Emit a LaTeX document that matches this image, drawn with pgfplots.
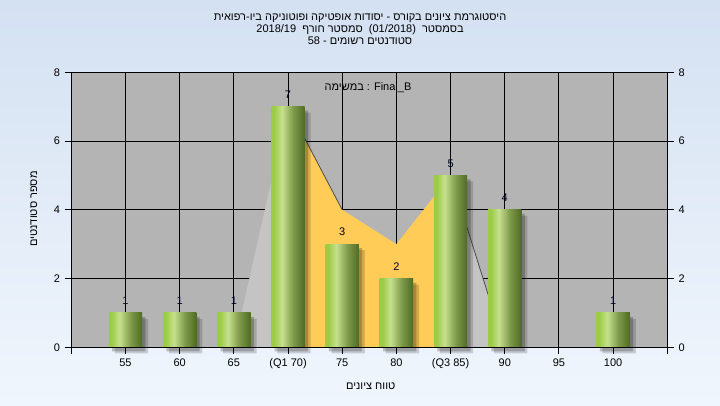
\documentclass[border=0pt]{standalone}
\usepackage{pgfplots}
\pgfplotsset{compat=1.18}
\usepackage{fontspec}
\setmainfont{Liberation Sans}
\newfontfamily\heb[Script=Hebrew]{Liberation Sans}
\TeXXeTstate=1
\definecolor{plotbg}{RGB}{180,180,180}
\definecolor{areagray}{RGB}{196,196,196}
\definecolor{areaorange}{RGB}{255,204,88}
\definecolor{bgtop}{RGB}{212,225,242}
\definecolor{bgbot}{RGB}{240,246,253}
\definecolor{gA}{RGB}{156,203,69}
\definecolor{gB}{RGB}{198,224,142}
\definecolor{gC}{RGB}{125,154,74}
\definecolor{gD}{RGB}{79,106,36}
\pgfdeclarehorizontalshading{barshade}{100bp}{color(0bp)=(gA); color(25bp)=(gA); color(29bp)=(gA); color(41bp)=(gB); color(58bp)=(gC); color(75bp)=(gD); color(100bp)=(gD)}
\pgfplotsset{
  mybar/.style={ybar, bar width=0.615, draw=none, shade, shading=barshade,
    nodes near coords,
    every node near coord/.append style={anchor=south, inner sep=0pt, yshift=6pt,
      font=\fontsize{8.25}{9}\selectfont, text=black!85!blue}},
}
\begin{document}
\begin{tikzpicture}
\useasboundingbox (0,0) rectangle (540pt,303.75pt);
\shade[top color=bgtop, bottom color=bgbot] (0,0) rectangle (540pt,303.75pt);
\begin{axis}[
  at={(53.475pt,43.275pt)}, anchor=south west,
  scale only axis, width=447pt, height=206.25pt,
  xmin=0, xmax=11, ymin=0, ymax=8,
  axis background/.style={fill=plotbg},
  xtick={0,...,11},
  xticklabels={,55,60,65,(Q1 70),75,80,(Q3 85),90,95,100,},
  ytick={0,2,4,6,8},
  grid=major, grid style={black, line width=0.75pt},
  tick align=outside, xtick pos=lower, ytick pos=left,
  major tick length=5pt,
  tick style={black, line width=0.75pt},
  ticklabel style={font=\fontsize{8.25}{9}\selectfont, text=black},
  /pgf/number format/assume math mode=true,
  clip=false,
  axis line style={black, line width=0.75pt},
]
\addplot[fill=areagray, draw=none] coordinates {(3,0) (4,7)} \closedcycle;
\addplot[fill=areaorange, draw=none] coordinates {(4,7) (5,4) (6,3) (7,5)} \closedcycle;
\addplot[fill=areagray, draw=none] coordinates {(7,5) (8,0)} \closedcycle;
\addplot[black!70, line width=0.6pt] coordinates {(4,7) (5,4)};
\addplot[black!70, line width=0.6pt] coordinates {(7,5) (8,0)};
% shadows
\addplot[ybar, bar width=0.615, bar shift=2.5pt, yshift=-3pt, draw=none, fill=black, fill opacity=0.22]
  coordinates {(1,1) (2,1) (3,1) (4,7) (5,3) (6,2) (7,5) (8,4) (10,1)};
\addplot[ybar, bar width=0.615, bar shift=4.5pt, yshift=-4.5pt, draw=none, fill=black, fill opacity=0.16]
  coordinates {(1,1) (2,1) (3,1) (4,7) (5,3) (6,2) (7,5) (8,4) (10,1)};
% bars, one plot each so that each bar gets its own shading
\addplot[mybar] coordinates {(1,1)};
\addplot[mybar] coordinates {(2,1)};
\addplot[mybar] coordinates {(3,1)};
\addplot[mybar] coordinates {(4,7)};
\addplot[mybar] coordinates {(5,3)};
\addplot[mybar] coordinates {(6,2)};
\addplot[mybar] coordinates {(7,5)};
\addplot[mybar] coordinates {(8,4)};
\addplot[mybar] coordinates {(10,1)};
\end{axis}
\begin{axis}[
  at={(53.475pt,43.275pt)}, anchor=south west,
  scale only axis, width=447pt, height=206.25pt,
  xmin=0, xmax=11, ymin=0, ymax=8,
  xtick=\empty, ytick={0,2,4,6,8},
  ytick pos=right, yticklabel pos=right,
  tick align=outside, major tick length=5pt,
  tick style={black, line width=0.75pt},
  ticklabel style={font=\fontsize{8.25}{9}\selectfont, text=black},
  /pgf/number format/assume math mode=true,
  axis line style={black, line width=0.75pt},
]
\addplot[draw=none] coordinates {(0,0)};
\end{axis}
\begin{scope}[font=\fontsize{8.25}{9}\selectfont]
\node[anchor=base] at (270pt,288.4pt) {\heb\beginR היסטוגרמת ציונים בקורס - יסודות אופטיקה ופוטוניקה ביו-רפואית\endR};
\node[anchor=base] at (270pt,279.4pt) {\heb\beginR בסמסטר\ \ \beginL(01/2018)\endL\ \ סמסטר חורף\ \ \beginL 2018/19\endL\endR};
\node[anchor=base] at (270pt,270.4pt) {\heb\beginR סטודנטים רשומים - \beginL 58\endL\endR};
\node[anchor=base] at (276pt,235.9pt) {\heb \hbox{במשימה} : Final\_B};
\node[anchor=base] at (278pt,12.0pt) {\heb\beginR טווח ציונים\endR};
\node[rotate=90, anchor=center] at (25.3pt,147pt) {\heb\beginR מספר סטודנטים\endR};
\end{scope}
\end{tikzpicture}
\end{document}
